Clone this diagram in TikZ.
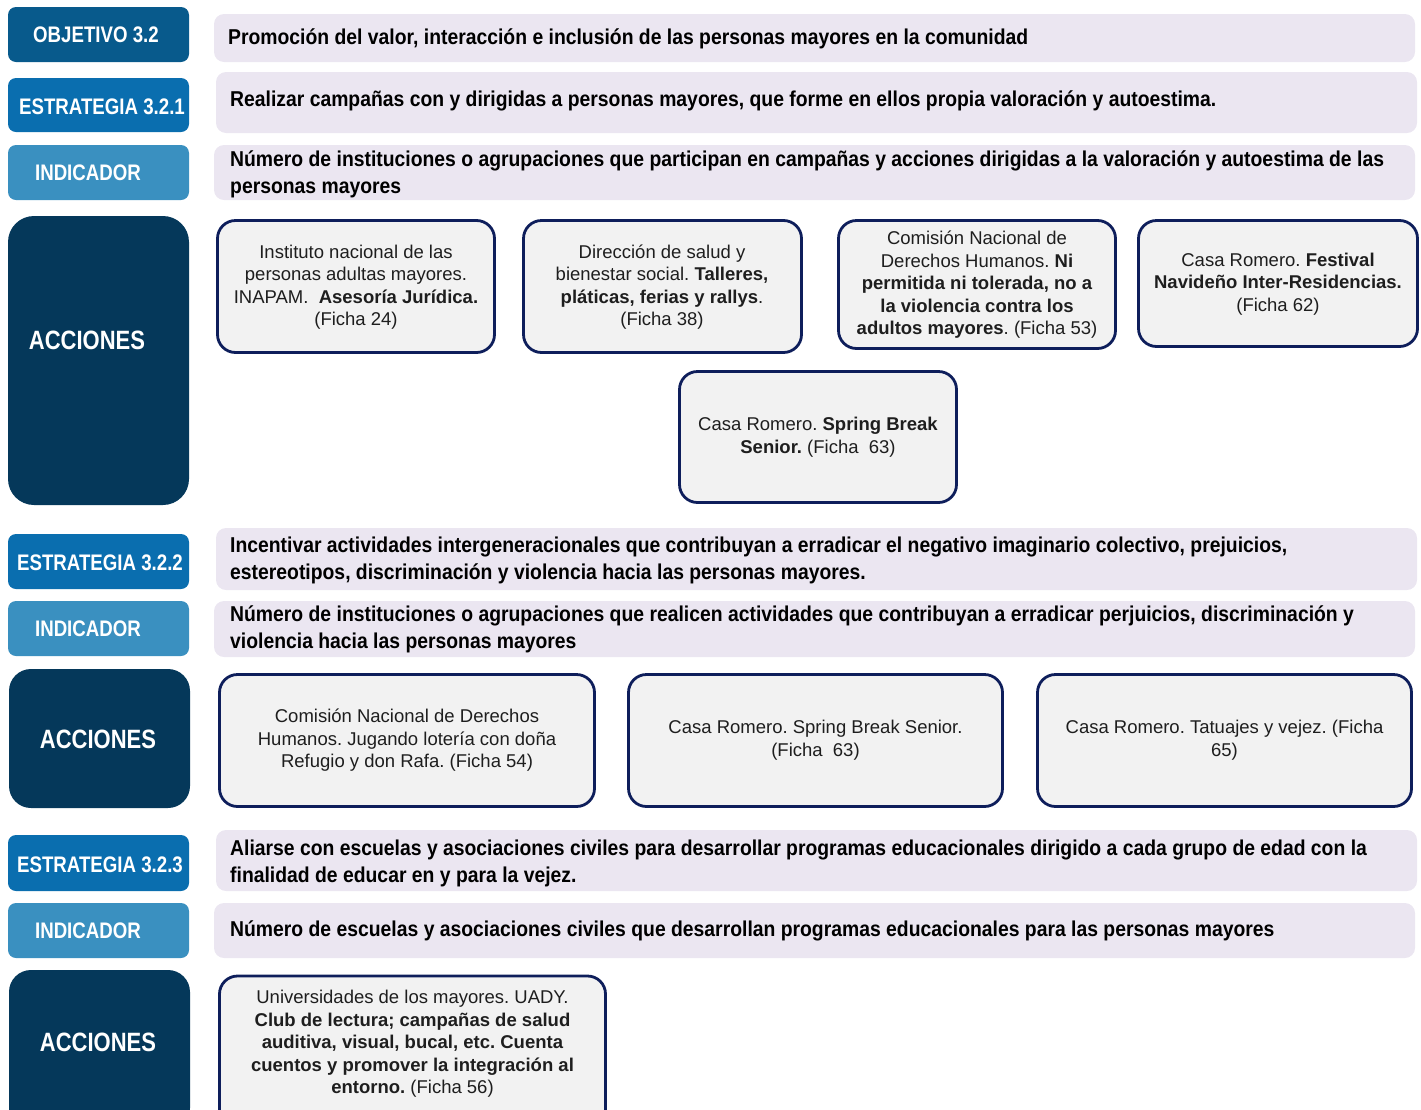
\documentclass[tikz,border=0pt]{standalone}
\usepackage{fontspec}
\setmainfont{Liberation Sans}
\newfontfamily\lblfont[FakeStretch=0.83]{Liberation Sans}
\newfontfamily\rowfont[FakeStretch=0.90]{Liberation Sans}
\definecolor{objblue}{HTML}{085A8C}
\definecolor{estblue}{HTML}{0A6EAF}
\definecolor{indblue}{HTML}{3A90C0}
\definecolor{accblue}{HTML}{05385A}
\definecolor{lavfill}{HTML}{EBE6F1}
\definecolor{actfill}{HTML}{F2F2F2}
\definecolor{actborder}{HTML}{0E1E5B}
\definecolor{acttext}{HTML}{1E1E1E}
\frenchspacing
\begin{document}
\begin{tikzpicture}[x=1pt,y=-1pt,
  lblbox/.style={rounded corners=8pt, inner sep=0pt, minimum width=181pt},
  lbltxt/.style={inner sep=0pt, text=white, font=\lblfont\bfseries\fontsize{22.5}{24}\selectfont},
  acctxt/.style={inner sep=0pt, text=white, font=\lblfont\bfseries\fontsize{26.5}{28}\selectfont},
  lavbox/.style={fill=lavfill, rounded corners=10pt, inner sep=0pt, minimum width=1201pt},
  rowtxt/.style={align=left, inner sep=0pt, anchor=west, text=black, font=\rowfont\bfseries\fontsize{21.5}{27}\selectfont},
  actbox/.style={draw=actborder, line width=2.8pt, fill=actfill, rounded corners=18pt, inner sep=0pt},
  actxt/.style={align=center, inner sep=0pt, text=acttext, font=\fontsize{18.5}{22.5}\selectfont}
]
\useasboundingbox (0,0) rectangle (1421,1109);
\clip (0,0) rectangle (1421,1109);

% ---------- left label boxes ----------
\node[lblbox, fill=objblue, minimum height=55pt] (obj) at (98.5,34.5) {};
\node[lbltxt] (objt) at (96,35) {OBJETIVO 3.2};
\node[lblbox, fill=estblue, minimum height=54pt] (est1) at (98.5,105) {};
\node[lbltxt] (est1t) at (102,107) {ESTRATEGIA 3.2.1};
\node[lblbox, fill=indblue, minimum height=55pt] (ind1) at (98.5,172.5) {};
\node[lbltxt] (ind1t) at (88,173) {INDICADOR};
\node[lblbox, fill=accblue, rounded corners=26pt, minimum height=289pt] (acc1) at (98.5,360.5) {};
\node[acctxt] (acc1t) at (87,340) {ACCIONES};

\node[lblbox, fill=estblue, minimum height=55pt] (est2) at (98.5,561.5) {};
\node[lbltxt] (est2t) at (100,563) {ESTRATEGIA 3.2.2};
\node[lblbox, fill=indblue, minimum height=55pt] (ind2) at (98.5,628.5) {};
\node[lbltxt] (ind2t) at (88,629) {INDICADOR};
\node[lblbox, fill=accblue, rounded corners=22pt, minimum height=139pt] (acc2) at (99.5,738.5) {};
\node[acctxt] (acc2t) at (98,739) {ACCIONES};

\node[lblbox, fill=estblue, minimum height=56pt] (est3) at (98.5,863) {};
\node[lbltxt] (est3t) at (100,865) {ESTRATEGIA 3.2.3};
\node[lblbox, fill=indblue, minimum height=55pt] (ind3) at (98.5,930.5) {};
\node[lbltxt] (ind3t) at (88,931) {INDICADOR};
\node[lblbox, fill=accblue, rounded corners=22pt, minimum height=160pt] (acc3) at (99.5,1050) {};
\node[acctxt] (acc3t) at (98,1042) {ACCIONES};

% ---------- lavender rows ----------
\node[lavbox, minimum height=48pt] (r1) at (814.5,38) {};
\node[rowtxt] (r1t) at (228,39) {Promoción del valor, interacción e inclusión de las personas mayores en la comunidad};
\node[lavbox, minimum height=61pt] (r2) at (816.5,102.5) {};
\node[rowtxt] (r2t) at (230,101) {Realizar campañas con y dirigidas a personas mayores, que forme en ellos propia valoración y autoestima.};
\node[lavbox, minimum height=55pt] (r3) at (814.5,172.5) {};
\node[rowtxt] (r3t) at (230,174) {Número de instituciones o agrupaciones que participan en campañas y acciones dirigidas a la valoración y autoestima de las\\personas mayores};

\node[lavbox, minimum height=62pt] (r4) at (816.5,559) {};
\node[rowtxt] (r4t) at (230,560) {Incentivar actividades intergeneracionales que contribuyan a erradicar el negativo imaginario colectivo, prejuicios,\\estereotipos, discriminación y violencia hacia las personas mayores.};
\node[lavbox, minimum height=56pt] (r5) at (814.5,629) {};
\node[rowtxt] (r5t) at (230,629) {Número de instituciones o agrupaciones que realicen actividades que contribuyan a erradicar perjuicios, discriminación y\\violencia hacia las personas mayores};

\node[lavbox, minimum height=61pt] (r6) at (816.5,860.5) {};
\node[rowtxt] (r6t) at (230,863) {Aliarse con escuelas y asociaciones civiles para desarrollar programas educacionales dirigido a cada grupo de edad con la\\finalidad de educar en y para la vejez.};
\node[lavbox, minimum height=55pt] (r7) at (814.5,930.5) {};
\node[rowtxt] (r7t) at (230,931) {Número de escuelas y asociaciones civiles que desarrollan programas educacionales para las personas mayores};

% ---------- action boxes ----------
\node[actbox, minimum width=277pt, minimum height=132pt] (a1) at (356,286.5) {};
\node[actxt] (a1t) at (356,287) {Instituto nacional de las\\personas adultas mayores.\\INAPAM.\ \ \textbf{Asesoría Jurídica.}\\(Ficha 24)};
\node[actbox, minimum width=278pt, minimum height=132pt] (a2) at (662.5,286.5) {};
\node[actxt] (a2t) at (662,287) {Dirección de salud y\\bienestar social. \textbf{Talleres,}\\\textbf{pláticas, ferias y rallys}.\\(Ficha 38)};
\node[actbox, minimum width=277pt, minimum height=128pt] (a3) at (977,284.5) {};
\node[actxt] (a3t) at (977,285) {Comisión Nacional de\\Derechos Humanos. \textbf{Ni}\\\textbf{permitida ni tolerada, no a}\\\textbf{la violencia contra los}\\\textbf{adultos mayores}. (Ficha 53)};
\node[actbox, minimum width=279pt, minimum height=126pt] (a4) at (1278,283.5) {};
\node[actxt] (a4t) at (1278,284) {Casa Romero. \textbf{Festival}\\\textbf{Navideño Inter-Residencias.}\\(Ficha 62)};
\node[actbox, minimum width=277pt, minimum height=131pt] (a5) at (818,437) {};
\node[actxt] (a5t) at (818,437) {Casa Romero. \textbf{Spring Break}\\\textbf{Senior.} (Ficha\ \ 63)};

\node[actbox, minimum width=375pt, minimum height=132pt] (b1) at (407,740.5) {};
\node[actxt] (b1t) at (407,740.5) {Comisión Nacional de Derechos\\Humanos. Jugando lotería con doña\\Refugio y don Rafa. (Ficha 54)};
\node[actbox, minimum width=374pt, minimum height=132pt] (b2) at (815.5,740.5) {};
\node[actxt] (b2t) at (815.5,740) {Casa Romero. Spring Break Senior.\\(Ficha\ \ 63)};
\node[actbox, minimum width=374pt, minimum height=132pt] (b3) at (1224.5,740.5) {};
\node[actxt] (b3t) at (1224.5,740) {Casa Romero. Tatuajes y vejez. (Ficha\\65)};

\node[actbox, minimum width=386pt, minimum height=164pt] (c1) at (412.5,1058) {};
\node[actxt] (c1t) at (412.5,1044) {Universidades de los mayores. UADY.\\\textbf{Club de lectura; campañas de salud}\\\textbf{auditiva, visual, bucal, etc. Cuenta}\\\textbf{cuentos y promover la integración al}\\\textbf{entorno.} (Ficha 56)};
\end{tikzpicture}
\end{document}
